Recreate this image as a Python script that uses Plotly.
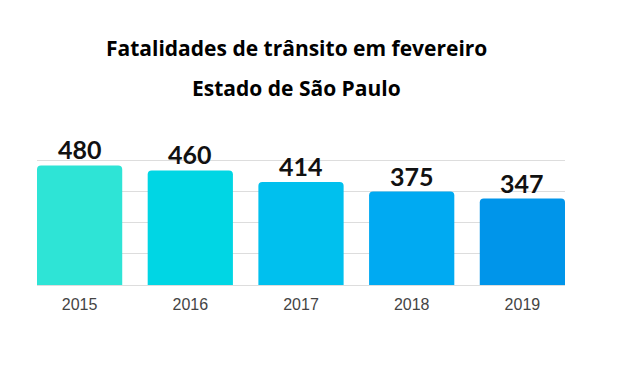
import plotly.graph_objects as go

years = ["2015", "2016", "2017", "2018", "2019"]
fatalities = [480, 460, 414, 375, 347]
bar_colors = ["#2ee4d6", "#00d6e4", "#00c0ee", "#00aaf2", "#0095ea"]
title_lines = ["Fatalidades de trânsito em fevereiro", "Estado de São Paulo"]

fig = go.Figure()
fig.add_trace(go.Bar(
    x=years, y=fatalities, marker=dict(color=bar_colors, line=dict(width=0)),
    hoverinfo="skip",
))

for i, v in enumerate(fatalities):
    fig.add_annotation(x=i, y=v, text=f"<b>{v}</b>", showarrow=False, yanchor="bottom",
                       yshift=-1, font=dict(family="Lato", size=25, color="#111111"),
                       xref="x", yref="y")

for line, ypos in zip(title_lines, [1.866, 1.551]):
    fig.add_annotation(x=0.492, y=ypos, xref="paper", yref="paper", text=f"<b>{line}</b>",
                       showarrow=False, yanchor="middle", xanchor="center",
                       font=dict(family="Open Sans", size=21, color="#000000"))

fig.update_layout(
    width=626, height=367,
    margin=dict(l=37, r=61, t=158, b=82),
    paper_bgcolor="white", plot_bgcolor="white",
    showlegend=False,
    bargap=0.23,
    barcornerradius=4,
    xaxis=dict(type="category", range=[-0.385, 4.385], showgrid=False, showline=False,
               ticks="", ticklabelstandoff=8,
               tickfont=dict(family="Arial", size=16, color="#444444")),
    yaxis=dict(range=[0, 510], tickvals=[0, 125, 250, 375, 500], showticklabels=False,
               showgrid=True, gridcolor="#dddddd", gridwidth=1, zeroline=True,
               zerolinecolor="#dddddd", zerolinewidth=1, fixedrange=True),
)

fig.write_html("out.html", config={"displayModeBar": False},
               post_script="document.body.style.margin='0';")
